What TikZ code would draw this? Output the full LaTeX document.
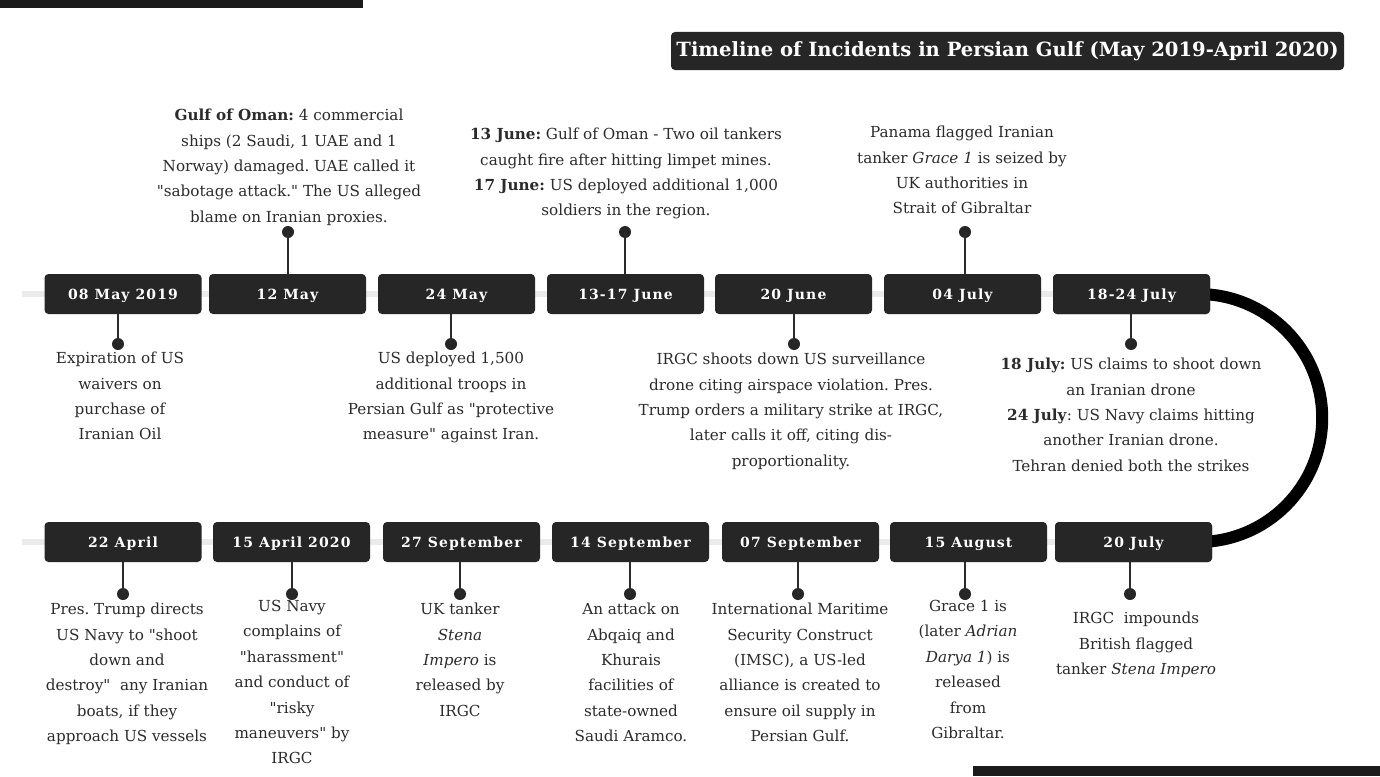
\documentclass[tikz,border=0pt]{standalone}
\usepackage{fontspec}
\usepackage{graphicx}
\setmainfont{DejaVu Serif}
\newfontfamily\bodyfont{DejaVu Serif}
\newfontfamily\datefont[LetterSpace=8]{DejaVu Serif}
\definecolor{boxdark}{HTML}{262626}
\definecolor{inkc}{HTML}{2B2B2B}
\definecolor{railc}{HTML}{EBEBEB}
\definecolor{barc}{HTML}{1B1B1B}
\tikzset{
  datebox/.style={fill=boxdark, rounded corners=4pt, minimum width=157pt, minimum height=40pt, inner sep=0pt,
    text height=10.5pt, text depth=0pt,
    text=white, font={\datefont\bfseries\fontsize{14}{16}\selectfont}},
  evtext/.style={align=center, inner sep=0pt, text=inkc, font={\bodyfont\frenchspacing\fontsize{15.2}{25.4}\selectfont}},
  stem/.style={draw=inkc, line width=1.4pt},
  dotm/.style={circle, fill=boxdark, inner sep=0pt, minimum size=12pt},
  rail/.style={draw=railc, line width=6pt},
  loopline/.style={draw=black, line width=12pt}
}
\begin{document}
\begin{tikzpicture}[x=1pt,y=-1pt]
\useasboundingbox (0,0) rectangle (1380,776);
\fill[white] (0,0) rectangle (1380,776);
% corner bars
\fill[barc] (0,0) rectangle (363,8);
\fill[barc] (973,766) rectangle (1380,776);
% title
\node[fill=boxdark, rounded corners=4pt, minimum width=673pt, minimum height=38pt, inner sep=0pt, text=white] (title) at (1007.5,51)
  {\resizebox{662pt}{!}{\bodyfont\fontsize{20}{24}\selectfont\bfseries Timeline of Incidents in Persian Gulf (May 2019-April 2020)}};
% rails
\coordinate (railTa) at (22,294);
\coordinate (railTb) at (1200,294);
\coordinate (railBa) at (22,542);
\coordinate (railBb) at (1205,542);
\draw[rail] (railTa) -- (railTb);
\draw[rail] (railBa) -- (railBb);
% top boxes
\node[datebox] (t1) at (123,294) {08 May 2019};
\node[datebox] (t2) at (287.5,294) {12 May};
\node[datebox] (t3) at (456.5,294) {24 May};
\node[datebox] (t4) at (625.5,294) {13-17 June};
\node[datebox] (t5) at (793.5,294) {20 June};
\node[datebox] (t6) at (962.5,294) {04 July};
% loop between 18-24 July and 20 July
\node[datebox] (t7) at (1131.5,294) {18-24 July};
\node[datebox] (b7) at (1133.5,542) {20 July};
\draw[loopline] ([xshift=-12pt]t7.east) arc[start angle=-90, end angle=90, radius=124];
\node[datebox] (t7) at (1131.5,294) {18-24 July};
\node[datebox] (b7) at (1133.5,542) {20 July};
% bottom boxes
\node[datebox] (b1) at (123,542) {22 April};
\node[datebox] (b2) at (291.5,542) {15 April 2020};
\node[datebox] (b3) at (461.5,542) {27 September};
\node[datebox] (b4) at (630.5,542) {14 September};
\node[datebox] (b5) at (800.5,542) {07 September};
\node[datebox] (b6) at (968.5,542) {15 August};
% dots
\node[dotm] (d1) at (118,344) {};
\node[dotm] (d2) at (288,232) {};
\node[dotm] (d3) at (451,344) {};
\node[dotm] (d4) at (625,232) {};
\node[dotm] (d5) at (794,344) {};
\node[dotm] (d6) at (965,232) {};
\node[dotm] (d7) at (1131,344) {};
\node[dotm] (e1) at (123,594) {};
\node[dotm] (e2) at (292,594) {};
\node[dotm] (e3) at (460,594) {};
\node[dotm] (e4) at (630,594) {};
\node[dotm] (e5) at (798,594) {};
\node[dotm] (e6) at (965,594) {};
\node[dotm] (e7) at (1130,594) {};
% stems
\draw[stem] (t1.south -| d1) -- (d1.center);
\draw[stem] (t2.north -| d2) -- (d2.center);
\draw[stem] (t3.south -| d3) -- (d3.center);
\draw[stem] (t4.north -| d4) -- (d4.center);
\draw[stem] (t5.south -| d5) -- (d5.center);
\draw[stem] (t6.north -| d6) -- (d6.center);
\draw[stem] (t7.south -| d7) -- (d7.center);
\draw[stem] (b1.south -| e1) -- (e1.center);
\draw[stem] (b2.south -| e2) -- (e2.center);
\draw[stem] (b3.south -| e3) -- (e3.center);
\draw[stem] (b4.south -| e4) -- (e4.center);
\draw[stem] (b5.south -| e5) -- (e5.center);
\draw[stem] (b6.south -| e6) -- (e6.center);
\draw[stem] (b7.south -| e7) -- (e7.center);
% texts above top row
\node[evtext, anchor=north] (x2) at (289,109) {\textbf{Gulf of Oman:} 4 commercial\\ships (2 Saudi, 1 UAE and 1\\Norway) damaged. UAE called it\\"sabotage attack." The US alleged\\blame on Iranian proxies.};
\node[evtext, anchor=north] (x4) at (626,128) {\textbf{13 June:} Gulf of Oman - Two oil tankers\\caught fire after hitting limpet mines.\\\textbf{17 June:} US deployed additional 1,000\\soldiers in the region.};
\node[evtext, anchor=north] (x6) at (962,126) {Panama flagged Iranian\\tanker \textit{Grace 1} is seized by\\UK authorities in\\Strait of Gibraltar};
% texts below top row
\node[evtext, anchor=north] (x1) at (120,352) {Expiration of US\\waivers on\\purchase of\\Iranian Oil};
\node[evtext, anchor=north] (x3) at (451,352) {US deployed 1,500\\additional troops in\\Persian Gulf as "protective\\measure" against Iran.};
\node[evtext, anchor=north] (x5) at (791,353) {IRGC shoots down US surveillance\\drone citing airspace violation. Pres.\\Trump orders a military strike at IRGC,\\later calls it off, citing dis-\\proportionality.};
\node[evtext, anchor=north] (x7) at (1131,358) {\textbf{18 July:} US claims to shoot down\\an Iranian drone\\\textbf{24 July}: US Navy claims hitting\\another Iranian drone.\\Tehran denied both the strikes};
% texts below bottom row
\node[evtext, anchor=north] (y1) at (127,603) {Pres. Trump directs\\US Navy to "shoot\\down and\\destroy"~ any Iranian\\boats, if they\\approach US vessels};
\node[evtext, anchor=north] (y2) at (292,600) {US Navy\\complains of\\"harassment"\\and conduct of\\"risky\\maneuvers" by\\IRGC};
\node[evtext, anchor=north] (y3) at (460,603) {UK tanker\\\textit{Stena}\\\textit{Impero} is\\released by\\IRGC};
\node[evtext, anchor=north] (y4) at (631,603) {An attack on\\Abqaiq and\\Khurais\\facilities of\\state-owned\\Saudi Aramco.};
\node[evtext, anchor=north] (y5) at (800,603) {International Maritime\\Security Construct\\(IMSC), a US-led\\alliance is created to\\ensure oil supply in\\Persian Gulf.};
\node[evtext, anchor=north] (y6) at (968,600) {Grace 1 is\\(later \textit{Adrian}\\\textit{Darya 1}) is\\released\\from\\Gibraltar.};
\node[evtext, anchor=north] (y7) at (1136,612) {IRGC~ impounds\\British flagged\\tanker \textit{Stena Impero}};
\end{tikzpicture}
\end{document}
